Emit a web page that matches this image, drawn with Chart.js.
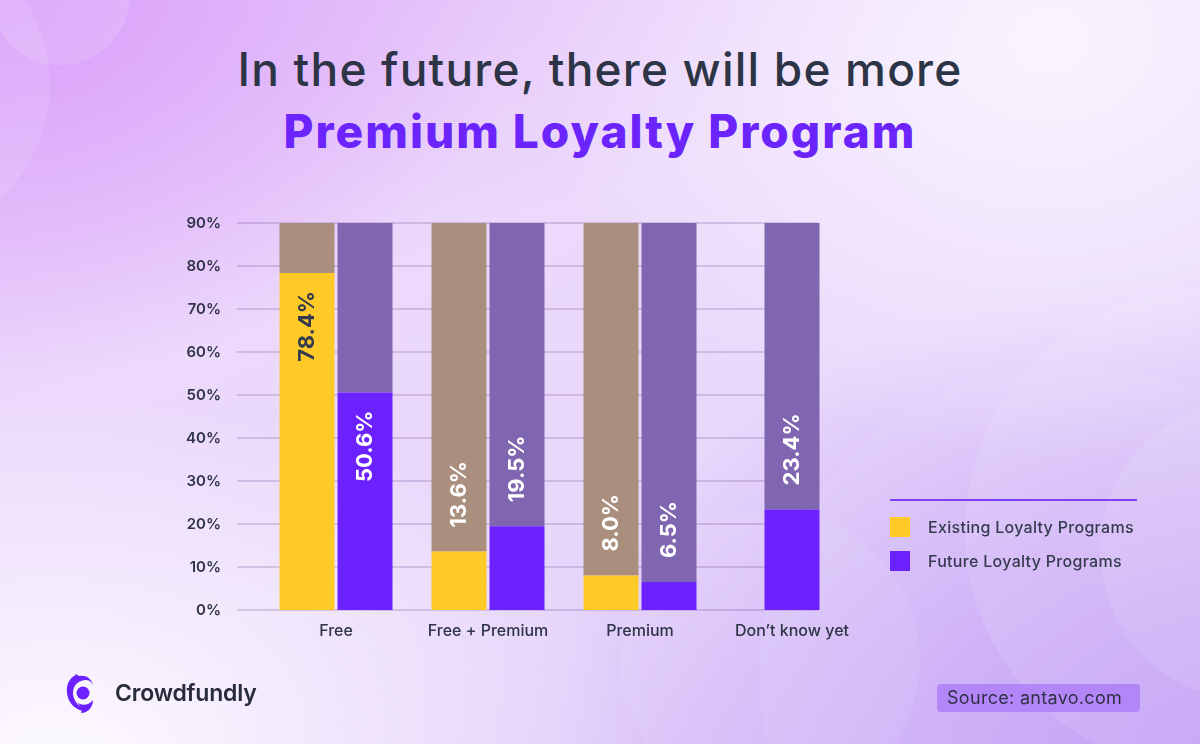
<!DOCTYPE html>
<html>
<head>
<meta charset="utf-8">
<script src="https://cdn.jsdelivr.net/npm/chart.js@4.4.1/dist/chart.umd.min.js"></script>
<style>
  html, body { margin: 0; padding: 0; }
  body { width: 1200px; height: 744px; overflow: hidden; font-family: Inter, "Noto Sans", sans-serif; }
  #stage { position: relative; width: 1200px; height: 744px; overflow: hidden;
    background:
      radial-gradient(ellipse 520px 420px at 1050px 40px, rgba(250,246,255,0.95) 0%, rgba(250,246,255,0) 100%),
      radial-gradient(ellipse 600px 360px at 60px 760px, rgba(253,250,255,1) 0%, rgba(253,250,255,0) 100%),
      radial-gradient(ellipse 700px 500px at 1250px 760px, rgba(190,150,246,1) 0%, rgba(190,150,246,0) 100%),
      radial-gradient(ellipse 520px 380px at 0px 0px, rgba(218,160,250,1) 0%, rgba(218,160,250,0) 100%),
      linear-gradient(160deg, #e4c0fa 0%, #ecd9fb 35%, #e8d8fb 60%, #d9c2f8 100%);
  }
  .circ { position: absolute; border-radius: 50%; }
  #title1 { position: absolute; left: 0; width: 1200px; top: 41px; text-align: center;
    font-size: 46px; font-weight: 500; color: #2c3445; letter-spacing: 1.2px; }
  #title2 { position: absolute; left: 0; width: 1200px; top: 103px; text-align: center;
    font-size: 46px; font-weight: 800; color: #6b24fb; letter-spacing: 2px; }
  #chart { position: absolute; left: 0; top: 0; }
  #legend { position: absolute; left: 890px; top: 499px; width: 247px; border-top: 2px solid #7b3ff5; }
  .li { position: absolute; left: 0; height: 20px; display: flex; align-items: center; }
  .sw { width: 20px; height: 20px; }
  .lt { margin-left: 18px; font-size: 16px; color: #353a4f; font-weight: 500; white-space: nowrap; letter-spacing: 0.3px; }
  #logo { position: absolute; left: 66px; top: 672px; display: flex; align-items: center; }
  #logo span { margin-left: 21px; font-size: 23px; font-weight: 600; color: #272b3a; letter-spacing: -0.2px; }
  #source { position: absolute; left: 937px; top: 684px; width: 203px; height: 28px; border-radius: 4px;
    background: rgba(170,120,248,0.75); font-size: 18px; color: #2f2f45; line-height: 28px; text-indent: 10px; letter-spacing: 0.3px; }
</style>
</head>
<body>
<div id="stage">
  <div class="circ" style="left:-10px;top:-75px;width:140px;height:140px;background:rgba(255,255,255,0.12);"></div>
  <div class="circ" style="left:-260px;top:-70px;width:310px;height:310px;background:rgba(255,255,255,0.10);"></div>
  <div class="circ" style="left:965px;top:290px;width:480px;height:480px;background:rgba(255,255,255,0.10);"></div>
  <div class="circ" style="left:760px;top:365px;width:620px;height:620px;background:rgba(255,255,255,0.07);"></div>
  <div class="circ" style="left:1100px;top:400px;width:300px;height:300px;background:rgba(255,255,255,0.10);"></div>
  <div class="circ" style="left:620px;top:510px;width:300px;height:300px;background:rgba(255,255,255,0.07);"></div>

  <div id="title1">In the future, there will be more</div>
  <div id="title2">Premium Loyalty Program</div>

  <canvas id="chart" width="1200" height="744"></canvas>

  <div id="legend">
    <div class="li" style="top:16px;"><div class="sw" style="background:#ffc928"></div><div class="lt">Existing Loyalty Programs</div></div>
    <div class="li" style="top:50px;"><div class="sw" style="background:#6b22ff"></div><div class="lt">Future Loyalty Programs</div></div>
  </div>

  <div id="logo">
    <svg width="28" height="42" viewBox="0 0 28 42">
      <path d="M11 2 C3 6 0 13 1 21 C2 32 11 40 22 39 C14 36 7 29 7 21 C7 13 13 8 20 8 C24 8 27 11 27 15 C27 8 21 3 14 4 C12 4 11 3 11 2 Z" fill="#6b22ff"/>
      <circle cx="17" cy="21" r="6.5" fill="#6b22ff"/>
      <path d="M11 30 C15 34 22 34 27 28 C27 35 22 41 15 41 C17 38 14 34 11 30 Z" fill="#6b22ff"/>
    </svg>
    <span>Crowdfundly</span>
  </div>

  <div id="source">Source: antavo.com</div>
</div>

<script>
const categories = ["Free", "Free + Premium", "Premium", "Don\u2019t know yet"];
const existingValues = [78.4, 13.6, 8.0, null];
const futureValues = [50.6, 19.5, 6.5, 23.4];
const yTicks = [0, 10, 20, 30, 40, 50, 60, 70, 80, 90];
const trackMax = 90;

const existingRest = existingValues.map(v => v === null ? null : trackMax - v);
const futureRest = futureValues.map(v => v === null ? null : trackMax - v);

const gridPlugin = {
  id: 'customGrid',
  beforeDatasetsDraw(chart) {
    const { ctx, chartArea, scales } = chart;
    ctx.save();
    ctx.strokeStyle = 'rgba(105,75,145,0.22)';
    ctx.lineWidth = 2;
    const left = chartArea.left - 23;
    const right = chartArea.right - 50;
    yTicks.forEach(t => {
      const y = Math.round(scales.y.getPixelForValue(t));
      ctx.beginPath();
      ctx.moveTo(left, y);
      ctx.lineTo(right, y);
      ctx.stroke();
    });
    ctx.restore();
  }
};

const labelPlugin = {
  id: 'valueLabels',
  afterDatasetsDraw(chart) {
    const { ctx } = chart;
    ctx.save();
    ctx.font = '700 22px Inter, "Noto Sans", sans-serif';
    ctx.textBaseline = 'middle';
    [[0, existingValues], [2, futureValues]].forEach(([di, vals]) => {
      const meta = chart.getDatasetMeta(di);
      meta.data.forEach((bar, i) => {
        const v = vals[i];
        if (v === null || v === undefined) return;
        const txt = v.toFixed(1) + '%';
        ctx.save();
        ctx.translate(bar.x, 0);
        ctx.rotate(-Math.PI / 2);
        if (v > 40) {
          ctx.textAlign = 'right';
          ctx.fillStyle = di === 0 ? '#343a4e' : '#ffffff';
          ctx.fillText(txt, -(bar.y + 18), 0);
        } else {
          ctx.textAlign = 'left';
          ctx.fillStyle = '#ffffff';
          ctx.fillText(txt, -(bar.y - 24), 0);
        }
        ctx.restore();
      });
    });
    ctx.restore();
  }
};

const catPct = 116 / 152;
const barPct = 55 / 58;

new Chart(document.getElementById('chart'), {
  type: 'bar',
  data: {
    labels: categories,
    datasets: [
      { label: 'Existing Loyalty Programs', data: existingValues, stack: 'existing', backgroundColor: '#ffc928' },
      { label: 'existing track', data: existingRest, stack: 'existing', backgroundColor: '#ab8f7e' },
      { label: 'Future Loyalty Programs', data: futureValues, stack: 'future', backgroundColor: '#6b22ff' },
      { label: 'future track', data: futureRest, stack: 'future', backgroundColor: '#8066b0' }
    ]
  },
  options: {
    responsive: false,
    animation: false,
    skipNull: true,
    categoryPercentage: catPct,
    barPercentage: barPct,
    maxBarThickness: 55,
    layout: { padding: { left: 0, right: 332, top: 223, bottom: 94 } },
    plugins: { legend: { display: false }, tooltip: { enabled: false } },
    scales: {
      x: {
        grid: { display: false, drawTicks: false },
        border: { display: false },
        ticks: { color: '#2f3446', font: { family: 'Inter, "Noto Sans", sans-serif', size: 16, weight: '500' }, padding: 12, maxRotation: 0, autoSkip: false },
        afterFit: (s) => { s.height = 40; }
      },
      y: {
        min: 0, max: 90,
        afterBuildTicks: (s) => { s.ticks = yTicks.map(v => ({ value: v })); },
        grid: { display: false, drawTicks: false },
        border: { display: false },
        ticks: { color: '#2f3446', font: { family: 'Inter, "Noto Sans", sans-serif', size: 15, weight: '600' }, padding: 39, callback: (v) => v + '%' },
        afterFit: (s) => { s.width = 260; }
      }
    }
  },
  plugins: [gridPlugin, labelPlugin]
});
</script>
</body>
</html>
